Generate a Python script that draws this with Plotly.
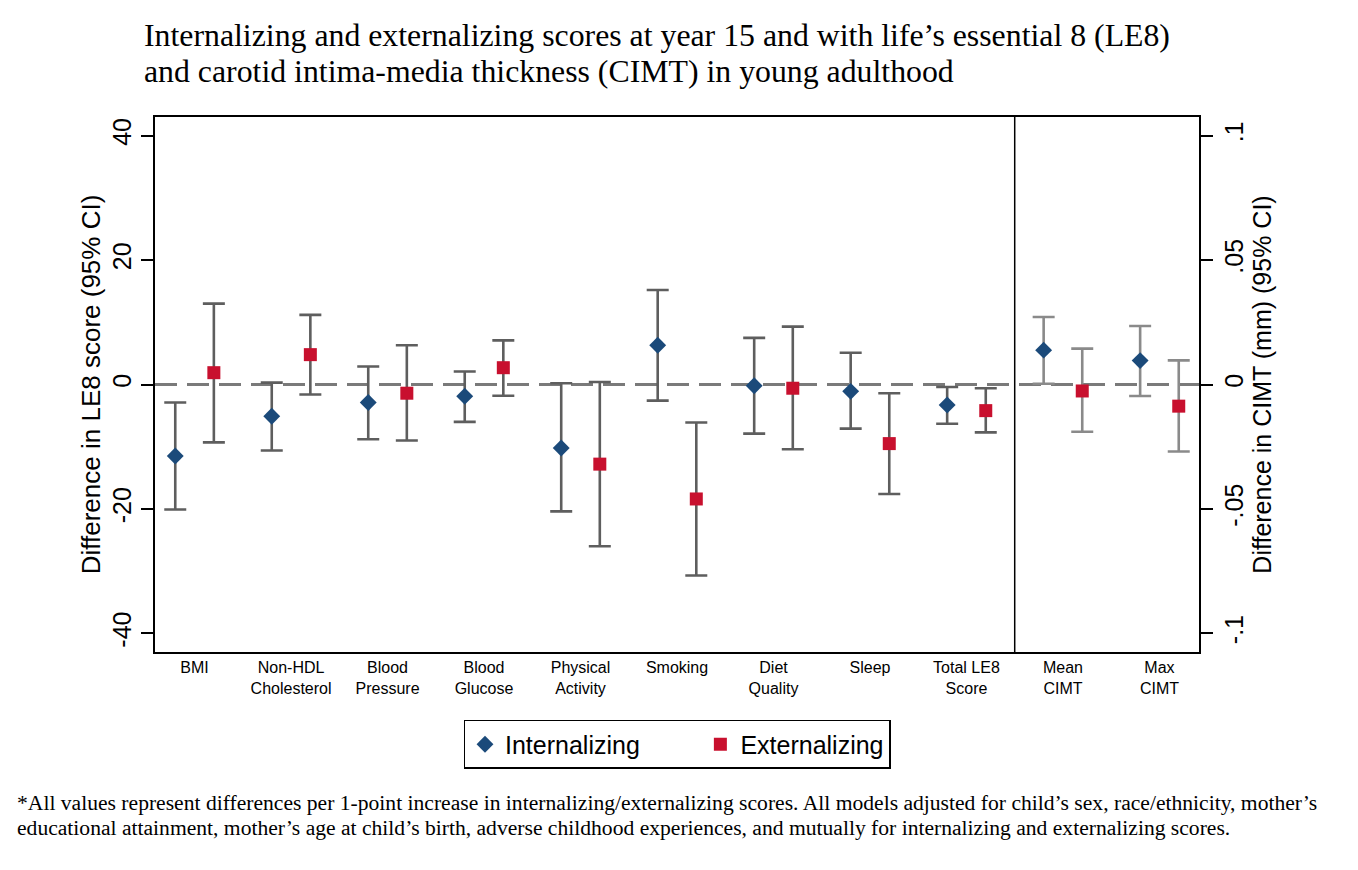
import plotly.graph_objects as go

# ---------------- data ----------------
categories = ["BMI", "Non-HDL<br>Cholesterol", "Blood<br>Pressure", "Blood<br>Glucose",
              "Physical<br>Activity", "Smoking", "Diet<br>Quality", "Sleep",
              "Total LE8<br>Score", "Mean<br>CIMT", "Max<br>CIMT"]

# LE8 components (left axis, LE8 points)
le8_int_est = [-11.5, -5.1, -2.9, -1.9, -10.2, 6.3, -0.2, -1.1, -3.3]
le8_int_lo = [-20.1, -10.6, -8.8, -6.0, -20.4, -2.6, -7.9, -7.1, -6.3]
le8_int_hi = [-2.9, 0.3, 2.9, 2.1, 0.2, 15.2, 7.5, 5.1, -0.4]

le8_ext_est = [1.9, 4.8, -1.4, 2.7, -12.8, -18.4, -0.6, -9.5, -4.2]
le8_ext_lo = [-9.3, -1.6, -9.0, -1.8, -26.0, -30.7, -10.4, -17.6, -7.7]
le8_ext_hi = [13.0, 11.2, 6.3, 7.1, 0.4, -6.1, 9.3, -1.4, -0.6]

# CIMT (right axis, mm)
cimt_int_est = [0.0138, 0.0096]
cimt_int_lo = [0.0003, -0.0046]
cimt_int_hi = [0.0271, 0.0235]

cimt_ext_est = [-0.0026, -0.0087]
cimt_ext_lo = [-0.0190, -0.0269]
cimt_ext_hi = [0.0144, 0.0097]

left_ticks = [-40, -20, 0, 20, 40]
right_ticks = [-0.1, -0.05, 0, 0.05, 0.1]
right_tick_text = ["-.1", "-.05", "0", ".05", ".1"]

series_names = ["Internalizing", "Externalizing"]

title_lines = ["Internalizing and externalizing scores at year 15 and with life\u2019s essential 8 (LE8)",
               "and carotid intima-media thickness (CIMT) in young adulthood"]
footnote_lines = ["*All values represent differences per 1-point increase in internalizing/externalizing scores. "
                  "All models adjusted for child\u2019s sex, race/ethnicity, mother\u2019s",
                  "educational attainment, mother\u2019s age at child\u2019s birth, adverse childhood experiences, "
                  "and mutually for internalizing and externalizing scores."]

# ---------------- styling ----------------
INT_COLOR = "#1b4a7a"
EXT_COLOR = "#c8102e"
EB_LEFT = "#5e5e5e"
EB_RIGHT = "#8a8a8a"
OFF = 0.2
n_le8 = len(le8_int_est)
n_all = len(categories)

pos = list(range(1, n_all + 1))
pos_le8 = pos[:n_le8]
pos_cimt = pos[n_le8:]


def err(est, lo, hi, color):
    return dict(type="data", symmetric=False,
                array=[h - e for e, h in zip(est, hi)],
                arrayminus=[e - l for e, l in zip(est, lo)],
                color=color, thickness=2.6, width=11)


fig = go.Figure()
fig.add_trace(go.Scatter(x=[p - OFF for p in pos_le8], y=le8_int_est, mode="markers",
                         name=series_names[0] + "\u00a0" * 8,
                         error_y=err(le8_int_est, le8_int_lo, le8_int_hi, EB_LEFT),
                         marker=dict(symbol="diamond", size=13, color=INT_COLOR)))
fig.add_trace(go.Scatter(x=[p + OFF for p in pos_le8], y=le8_ext_est, mode="markers",
                         name=series_names[1],
                         error_y=err(le8_ext_est, le8_ext_lo, le8_ext_hi, EB_LEFT),
                         marker=dict(symbol="square", size=13, color=EXT_COLOR)))
fig.add_trace(go.Scatter(x=[p - OFF for p in pos_cimt], y=cimt_int_est, mode="markers",
                         name=series_names[0], showlegend=False, yaxis="y2",
                         error_y=err(cimt_int_est, cimt_int_lo, cimt_int_hi, EB_RIGHT),
                         marker=dict(symbol="diamond", size=13, color=INT_COLOR)))
fig.add_trace(go.Scatter(x=[p + OFF for p in pos_cimt], y=cimt_ext_est, mode="markers",
                         name=series_names[1], showlegend=False, yaxis="y2",
                         error_y=err(cimt_ext_est, cimt_ext_lo, cimt_ext_hi, EB_RIGHT),
                         marker=dict(symbol="square", size=13, color=EXT_COLOR)))

YL = 43.0
sans = "Liberation Sans, Arial, sans-serif"
serif = "Liberation Serif, Times New Roman, serif"

PW, PH = 1044, 535  # plot area size in px

fig.update_layout(
    width=1350, height=862, autosize=False,
    paper_bgcolor="white", plot_bgcolor="white",
    margin=dict(l=147, r=1350 - 147 - PW, t=109, b=862 - 109 - PH),
    font=dict(family=sans, color="black"),
    xaxis=dict(range=[0.59, 11.41], tickmode="array", tickvals=pos, ticktext=categories,
               showgrid=False, zeroline=False, showline=True, linecolor="black",
               linewidth=2, mirror=True, ticks="", tickfont=dict(size=16, family=sans)),
    yaxis=dict(range=[-YL, YL], tickvals=left_ticks, ticktext=[str(t) for t in left_ticks],
               tickangle=-90, showgrid=False, zeroline=False, showline=True,
               linecolor="black", linewidth=2, mirror=True, ticks="outside", ticklen=12,
               tickwidth=2, tickcolor="black", tickfont=dict(size=25),
               title=dict(text="Difference in LE8 score (95% CI)", font=dict(size=26), standoff=0)),
    yaxis2=dict(range=[-YL / 400, YL / 400], overlaying="y", side="right",
                tickvals=right_ticks, ticktext=right_tick_text, tickangle=-90,
                showgrid=False, zeroline=False, showline=True, linecolor="black",
                linewidth=2, ticks="outside", ticklen=12, tickwidth=2, tickcolor="black",
                tickfont=dict(size=25),
                title=dict(text="Difference in CIMT (mm) (95% CI)", font=dict(size=25), standoff=4)),
    legend=dict(orientation="h", x=0.5, xanchor="center", y=-0.127, yanchor="top",
                bordercolor="black", borderwidth=1.5, font=dict(size=25, family=sans)),
    showlegend=True,
)

fig.add_shape(type="line", xref="paper", yref="y", x0=0, x1=1, y0=0, y1=0,
              line=dict(color="#7a7a7a", width=3, dash="22px,10px"), layer="below")
fig.add_shape(type="line", xref="x", yref="paper", x0=9.5, x1=9.5, y0=0, y1=1,
              line=dict(color="black", width=1.5))

# title lines (page y of line centres: 35, 70)
for line, yc in zip(title_lines, [36, 71]):
    fig.add_annotation(text=line, xref="paper", yref="paper",
                       x=(142 - 155) / PW, xanchor="left", y=(652 - yc) / PH, yanchor="middle",
                       showarrow=False, font=dict(family=serif, size=31.8, color="black"))

# footnote lines (page y of line centres: 803, 828)
for line, yc in zip(footnote_lines, [803, 828]):
    fig.add_annotation(text=line, xref="paper", yref="paper",
                       x=(15 - 155) / PW, xanchor="left", y=(652 - yc) / PH, yanchor="middle",
                       showarrow=False, font=dict(family=serif, size=21.6, color="black"))

fig.write_html("out.html")
